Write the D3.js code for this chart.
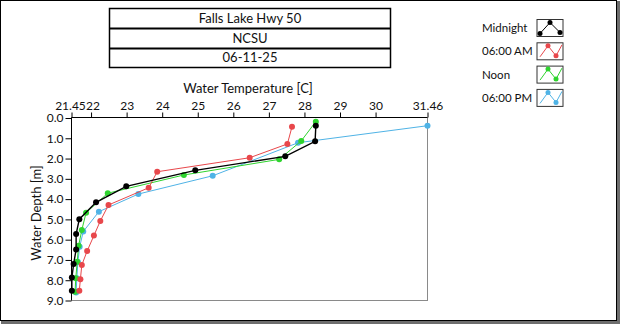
<!DOCTYPE html>
<html>
<head>
<meta charset="utf-8">
<script src="https://cdn.jsdelivr.net/npm/d3@7"></script>
<style>
  body { margin: 0; background: #fff; }
  svg text { font-family: "Lato", "Open Sans", sans-serif; fill: #111; }
</style>
</head>
<body>
<div id="chart"></div>
<script>
var fullWidth = 620;
var fullHeight = 324;

// header lines and series names
var titleLines = ["Falls Lake Hwy 50", "NCSU", "06-11-25"];
var seriesNames = ["Midnight", "06:00 AM", "Noon", "06:00 PM"];
var seriesColors = ["#000000", "#e8474b", "#2ed42e", "#4fb3e6"];

// depth [m] / temperature [C] per profile
var midnightDepth = [0.38, 1.15, 1.89, 2.58, 3.37, 4.16, 4.99, 5.72, 6.48, 7.2, 7.87, 8.52];
var midnightTemp  = [28.32, 28.30, 27.46, 24.93, 22.99, 22.14, 21.67, 21.58, 21.58, 21.51, 21.46, 21.46];
var amDepth = [0.43, 1.28, 1.96, 2.65, 3.44, 4.29, 5.08, 5.80, 6.56, 7.25, 7.95, 8.52];
var amTemp  = [27.65, 27.52, 26.46, 23.86, 23.62, 22.49, 22.26, 22.08, 21.89, 21.74, 21.70, 21.67];
var noonDepth = [0.18, 1.13, 2.04, 2.81, 3.71, 4.67, 5.52, 6.30, 7.09, 7.90, 8.57];
var noonTemp  = [28.32, 27.91, 27.29, 24.61, 22.47, 21.86, 21.74, 21.65, 21.61, 21.57, 21.55];
var pmDepth = [0.38, 1.22, 2.85, 3.75, 4.62, 5.6, 6.35, 7.1, 7.9, 8.6];
var pmTemp  = [31.46, 27.82, 25.42, 23.33, 22.22, 21.78, 21.68, 21.63, 21.60, 21.58];

var xTicks = [21.45, 22, 23, 24, 25, 26, 27, 28, 29, 30, 31.46];
var yTicks = [0, 1, 2, 3, 4, 5, 6, 7, 8, 9];

var profiles = [
  {name: seriesNames[0], color: seriesColors[0], depth: midnightDepth, temp: midnightTemp},
  {name: seriesNames[1], color: seriesColors[1], depth: amDepth, temp: amTemp},
  {name: seriesNames[2], color: seriesColors[2], depth: noonDepth, temp: noonTemp},
  {name: seriesNames[3], color: seriesColors[3], depth: pmDepth, temp: pmTemp}
];

var plot = {left: 71.5, top: 117.5, right: 427.5, bottom: 300.5};

var svg = d3.select("#chart")
            .append("svg")
            .attr("width", fullWidth)
            .attr("height", fullHeight);

// outer panel: dark top/left, grey shadow right/bottom
svg.append("rect").attr("x", 0.5).attr("y", 0.5).attr("width", 616).attr("height", 320)
   .attr("fill", "#fff").attr("stroke", "#000");
svg.append("rect").attr("x", 617).attr("y", 1).attr("width", 3).attr("height", 323).attr("fill", "#6e6e6e");
svg.append("rect").attr("x", 1).attr("y", 321).attr("width", 619).attr("height", 3).attr("fill", "#6e6e6e");

// title table
var box = svg.append("g");
box.append("rect").attr("x", 109.5).attr("y", 8.5).attr("width", 281).attr("height", 59)
   .attr("fill", "none").attr("stroke", "#000").attr("stroke-width", 1.5);
box.selectAll("line.sep")
   .data([28.5, 48.5])
   .enter().append("line")
   .attr("class", "sep")
   .attr("x1", 109.5).attr("x2", 390.5)
   .attr("y1", function(d){ return d; }).attr("y2", function(d){ return d; })
   .attr("stroke", "#000").attr("stroke-width", 2.2);
box.selectAll("text")
   .data(titleLines)
   .enter().append("text")
   .attr("x", 250)
   .attr("y", function(d, i){ return [22.5, 42.5, 62][i]; })
   .attr("text-anchor", "middle")
   .style("font-size", "13px")
   .text(function(d){ return d; });

var xScale = d3.scaleLinear().domain([21.45, 31.46]).range([plot.left, plot.right]);
var yScale = d3.scaleLinear().domain([0, 9]).range([118, 300.5]);

var xAxis = d3.axisTop(xScale)
              .tickValues(xTicks)
              .tickSize(5)
              .tickPadding(3)
              .tickFormat(function(d){ return Number.isInteger(d) ? d : d.toFixed(2); });
var yAxis = d3.axisLeft(yScale)
              .tickValues(yTicks)
              .tickSize(6)
              .tickPadding(2)
              .tickFormat(d3.format(".1f"));

var gx = svg.append("g").attr("transform", "translate(0," + plot.top + ")").call(xAxis);
var gy = svg.append("g").attr("transform", "translate(" + plot.left + ",0)").call(yAxis);
[gx, gy].forEach(function(g){
  g.select(".domain").remove();
  g.selectAll("text").style("font-size", "12px").style("font-family", "Lato, 'Open Sans', sans-serif").attr("fill", "#111");
  g.selectAll("line").attr("stroke", "#000");
});
// min label and 22 sit right next to each other, nudge them apart
gx.selectAll(".tick text")
  .attr("dx", function(d){ return d == 21.45 ? -1.5 : (d == 22 ? 1.5 : 0); });

svg.append("text")
   .attr("x", 248).attr("y", 93)
   .attr("text-anchor", "middle")
   .style("font-size", "13px")
   .text("Water Temperature [C]");

svg.append("text")
   .attr("transform", "translate(41,213) rotate(-90)")
   .attr("text-anchor", "middle")
   .style("font-size", "13px")
   .text("Water Depth [m]");

// plot frame
svg.append("rect").attr("x", plot.left).attr("y", plot.top)
   .attr("width", plot.right - plot.left).attr("height", plot.bottom - plot.top)
   .attr("fill", "#fff").attr("stroke", "#8a8a8a");
svg.append("path")
   .attr("d", "M" + plot.left + "," + plot.bottom + "V" + plot.top + "H" + plot.right)
   .attr("fill", "none").attr("stroke", "#000");

var line = d3.line()
             .x(function(d){ return xScale(d[1]); })
             .y(function(d){ return yScale(d[0]); });

var traces = svg.append("g");
profiles.slice().reverse().forEach(function(p){
  var pts = d3.zip(p.depth, p.temp);
  var g = traces.append("g");
  g.append("path")
   .datum(pts)
   .attr("d", line)
   .attr("fill", "none")
   .attr("stroke", p.color)
   .attr("stroke-width", p.name == "Midnight" ? 1.4 : 1);
  g.selectAll("circle")
   .data(pts)
   .enter().append("circle")
   .attr("cx", function(d){ return xScale(d[1]); })
   .attr("cy", function(d){ return yScale(d[0]); })
   .attr("r", 3)
   .attr("fill", p.color);
});

// legend with little zigzag icons
var legend = svg.append("g");
var iconPts = [[3, 14], [11, 3], [19, 13], [25, 2]];
var midPts = [[3, 14], [13, 3], [23, 13]];
profiles.forEach(function(p, i){
  var y0 = 19.5 + i * 23.3;
  legend.append("text").attr("x", 482).attr("y", y0 + 12.5)
        .style("font-size", "11.5px").text(p.name);
  var ig = legend.append("g").attr("transform", "translate(537," + y0 + ")");
  ig.append("rect").attr("width", 26).attr("height", 17).attr("fill", "#fff").attr("stroke", "#333");
  var pts = i == 0 ? midPts : iconPts;
  ig.append("path")
    .datum(pts)
    .attr("d", d3.line().x(function(d){ return d[0]; }).y(function(d){ return d[1]; }))
    .attr("fill", "none").attr("stroke", p.color).attr("stroke-width", 1);
  ig.selectAll("circle")
    .data(i == 0 ? pts : pts.slice(1, 3))
    .enter().append("circle")
    .attr("cx", function(d){ return d[0]; })
    .attr("cy", function(d){ return d[1]; })
    .attr("r", 2.5)
    .attr("fill", p.color);
});
</script>
</body>
</html>
